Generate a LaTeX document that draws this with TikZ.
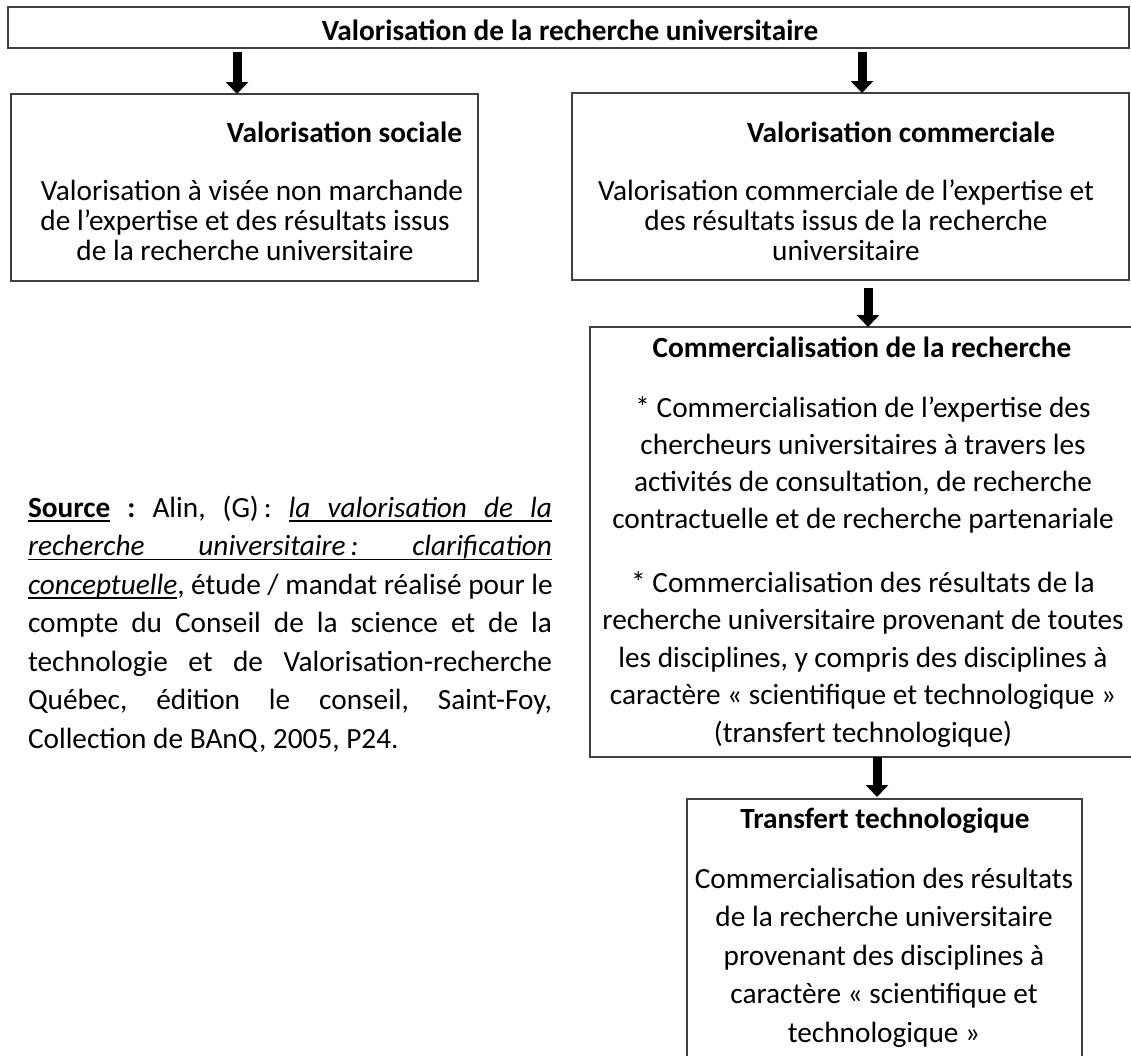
\documentclass[tikz,border=0pt]{standalone}
\usepackage{fontspec}
\setmainfont{Carlito}
\usetikzlibrary{arrows.meta,calc}
\newcommand{\cblock}[3]{\vtop{\hsize=#1\centering\fontsize{29.3}{#2}\selectfont #3\par}}
\newcommand{\ulw}[1]{\setbox0\hbox{#1}\rlap{\vrule height -3pt depth 4.6pt width \wd0}\box0\relax}
\newcommand{\ulsp}{\leaders\hrule height -3pt depth 4.6pt\hskip\fontdimen2\font plus 1fil\relax}
\newcommand{\jline}[1]{\hbox to 524pt{\spaceskip=\fontdimen2\font plus 1fil\relax #1}}
\tikzset{
  box/.style={draw=black!75, line width=1.6pt, rectangle, inner sep=0pt, outer sep=0pt, anchor=north west},
  arr/.style={line width=9pt, -{Triangle[length=12pt,width=22pt]}},
  txt/.style={inner sep=0pt, outer sep=0pt, anchor=base, font=\fontsize{29.3}{30}\selectfont},
  ttl/.style={txt, font=\fontsize{29.3}{30}\selectfont\bfseries}
}
\begin{document}
\begin{tikzpicture}[x=1pt,y=-1pt]
\useasboundingbox (0,0) rectangle (1131,1055);
% boxes
\node[box, minimum width=1121pt, minimum height=41pt] (top) at (8,7) {};
\node[box, minimum width=467pt, minimum height=187pt] (soc) at (11,94) {};
\node[box, minimum width=557pt, minimum height=187pt] (com) at (572,93) {};
\node[box, minimum width=570pt, minimum height=430pt] (comr) at (590,327) {};
\node[box, minimum width=395pt, minimum height=300pt] (trans) at (687,799) {};
% texts
\node[ttl] (ttop) at (570,40) {Valorisation de la recherche universitaire};
\node[ttl, anchor=base east] (tsoc) at (462,142) {Valorisation sociale};
\node[ttl] (tcom) at (901,142) {Valorisation commerciale};
\node[txt] (bsoc) at (245,200) {\cblock{460pt}{30pt}{\hspace*{14pt}Valorisation à visée non marchande\\de l’expertise et des résultats issus\\de la recherche universitaire}};
\node[txt] (bcom) at (846,200) {\cblock{540pt}{30pt}{Valorisation commerciale de l’expertise et\\des résultats issus de la recherche\\universitaire}};
\node[ttl] (tcomr) at (862,357) {Commercialisation de la recherche};
\node[txt] (bcomr1) at (863,417) {\cblock{540pt}{37pt}{* Commercialisation de l’expertise des\\chercheurs universitaires à travers les\\activités de consultation, de recherche\\contractuelle et de recherche partenariale}};
\node[txt] (bcomr2) at (863,592) {\cblock{540pt}{37.5pt}{* Commercialisation des résultats de la\\recherche universitaire provenant de toutes\\les disciplines, y compris des disciplines à\\caractère « scientifique et technologique »\\(transfert technologique)}};
\node[ttl] (ttrans) at (885,828) {Transfert technologique};
\node[txt] (btrans) at (884,888) {\cblock{390pt}{38.5pt}{Commercialisation des résultats\\de la recherche universitaire\\provenant des disciplines à\\caractère « scientifique et\\technologique »}};
\node[txt, anchor=base west] (src) at (28,517) {\vtop{\hsize=524pt\fontsize{29.3}{38.5}\selectfont\frenchspacing\baselineskip=38.5pt
\jline{\ulw{\textbf{Source}} \textbf{:} Alin, (G)\,: \ulw{\textit{la}}\ulsp\ulw{\textit{valorisation}}\ulsp\ulw{\textit{de}}\ulsp\ulw{\textit{la}}}
\jline{\ulw{\textit{recherche}}\ulsp\ulw{\textit{universitaire\,:}}\ulsp\ulw{\textit{clarification}}}
\jline{\ulw{\textit{conceptuelle}}, étude / mandat réalisé pour le}
\jline{compte du Conseil de la science et de la}
\jline{technologie et de Valorisation-recherche}
\jline{Québec, édition le conseil, Saint-Foy,}
\hbox{Collection de BAnQ, 2005, P24.}}};
% arrows
\draw[arr] ($(top.south west)+(229,4)$) -- ($(soc.north west)+(226,0)$);
\draw[arr] ($(top.south west)+(854,4)$) -- ($(com.north west)+(290,0)$);
\draw[arr] ($(com.south west)+(296,8)$) -- ($(comr.north west)+(278,0)$);
\draw[arr] ($(comr.south west)+(287,0)$) -- ($(trans.north west)+(190,-2)$);
\end{tikzpicture}
\end{document}
